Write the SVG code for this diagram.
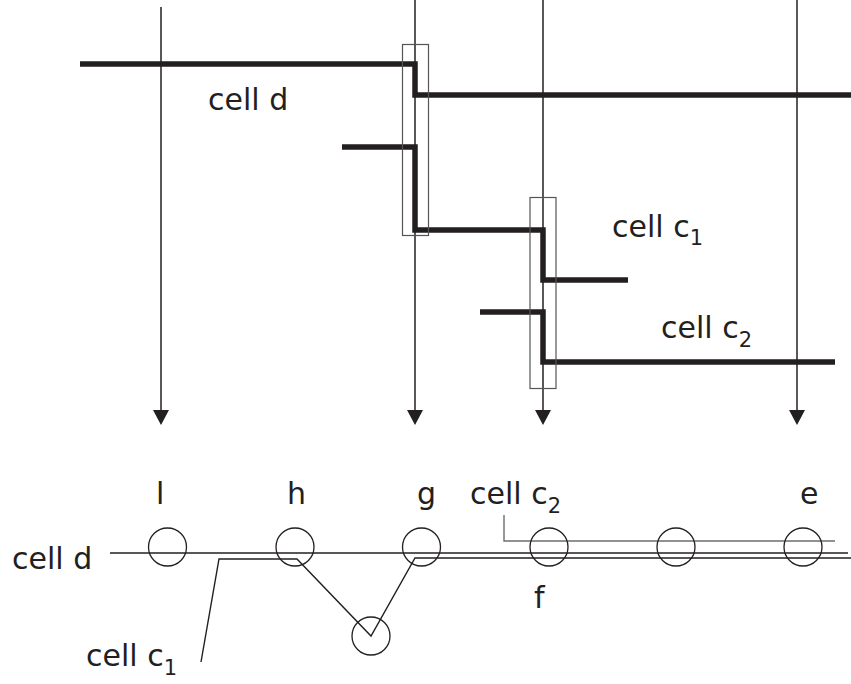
<svg xmlns="http://www.w3.org/2000/svg" width="851" height="684" viewBox="0 0 851 684">
<defs>
<style>
.vl{stroke:#231f20;stroke-width:1.5;fill:none}
.thick{stroke:#231f20;stroke-width:5.5;fill:none;stroke-linejoin:miter}
.box{stroke:#555;stroke-width:1.2;fill:none}
.thin{stroke:#231f20;stroke-width:1.4;fill:none}
.grey{stroke:#6d6d6d;stroke-width:1.4;fill:none}
.node{stroke:#231f20;stroke-width:1.3;fill:none}
text{font-family:"DejaVu Sans","Liberation Sans",sans-serif;font-size:30px;fill:#231f20}
.sub{font-size:21px}
</style>
</defs>
<g id="connectors">
<line class="vl" x1="161" y1="7" x2="161" y2="412"/>
<path d="M153,410 L169,410 L161,425 Z" fill="#231f20"/>
<line class="vl" x1="415" y1="0" x2="415" y2="412"/>
<path d="M407,410 L423,410 L415,425 Z" fill="#231f20"/>
<line class="vl" x1="543" y1="0" x2="543" y2="412"/>
<path d="M535,410 L551,410 L543,425 Z" fill="#231f20"/>
<line class="vl" x1="797" y1="0" x2="797" y2="412"/>
<path d="M789,410 L805,410 L797,425 Z" fill="#231f20"/>
</g>
<g id="cell-d-top">
<path class="thick" d="M80,64 H415 V95 H851"/>
<text x="208" y="110">cell d</text>
</g>
<g id="cell-c1-top">
<path class="thick" d="M342,147 H415 V230 H543 V280 H628"/>
<text x="612" y="237">cell c<tspan class="sub" dy="8">1</tspan></text>
</g>
<g id="cell-c2-top">
<path class="thick" d="M480,312 H543 V362 H835"/>
<text x="661" y="338">cell c<tspan class="sub" dy="9">2</tspan></text>
</g>
<g id="box1"><rect class="box" x="402.5" y="44.5" width="26" height="191"/></g>
<g id="box2"><rect class="box" x="530" y="197.5" width="26" height="191"/></g>
<g id="bottom-lines">
<line class="thin" x1="110" y1="553" x2="848" y2="553"/>
<path class="thin" d="M201,662 L219,559 H297 L371,636 L415,558 H851"/>
<path class="grey" d="M504,515 V541 H835"/>
</g>
<g id="node-l"><circle class="node" cx="167.5" cy="547" r="19"/><text x="156" y="504">l</text></g>
<g id="node-h"><circle class="node" cx="295" cy="547" r="19"/><text x="287" y="504">h</text></g>
<g id="node-g"><circle class="node" cx="421.5" cy="547" r="19"/><text x="417" y="504">g</text></g>
<g id="node-f"><circle class="node" cx="549" cy="547" r="19"/><text x="534" y="608">f</text></g>
<g id="node-5"><circle class="node" cx="676" cy="547" r="19"/></g>
<g id="node-e"><circle class="node" cx="803" cy="547" r="19"/><text x="800" y="504">e</text></g>
<g id="node-bottom"><circle class="node" cx="371" cy="636" r="19"/></g>
<g id="labels-bottom">
<text x="12" y="569">cell d</text>
<text x="470" y="504">cell c<tspan class="sub" dy="9">2</tspan></text>
<text x="86" y="666">cell c<tspan class="sub" dy="9">1</tspan></text>
</g>
</svg>
